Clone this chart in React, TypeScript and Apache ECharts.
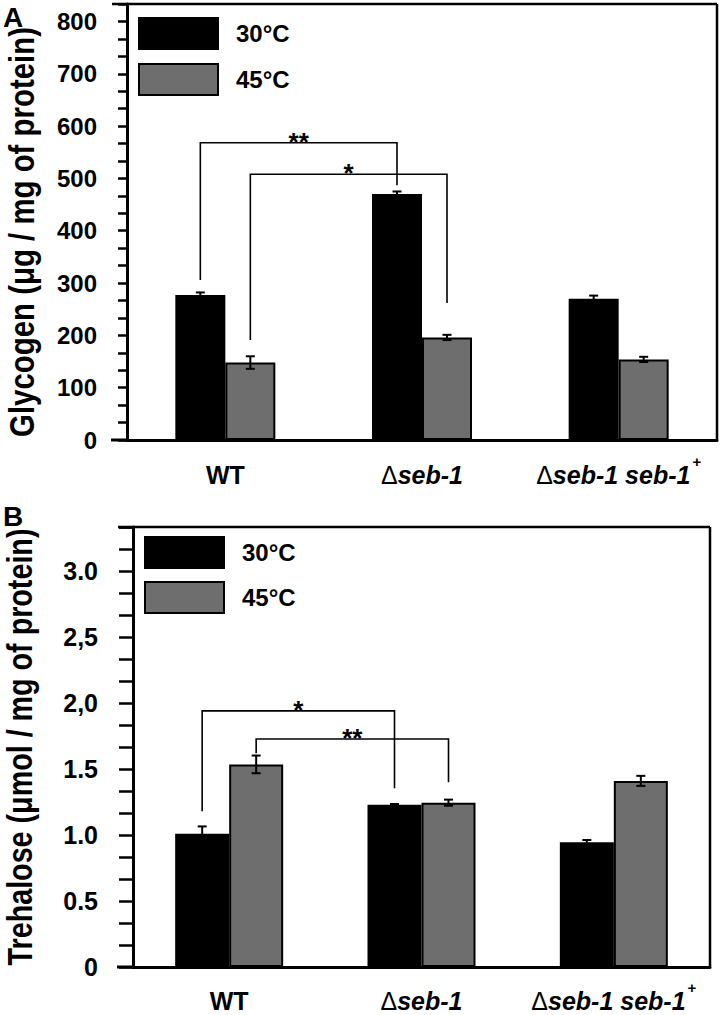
import React, { useEffect, useRef } from "react";
import * as echarts from "echarts";

// ---------- data ----------
const categories = ["WT", "Δseb-1", "Δseb-1 seb-1+"];
const seriesNames = ["30°C", "45°C"];

const glycogen30 = [277, 470, 270];
const glycogen30Err = [5, 5, 6];
const glycogen45 = [148, 196, 154];
const glycogen45Err = [12, 5, 5];

const trehalose30 = [1.01, 1.23, 0.945];
const trehalose30Err = [0.055, 0.005, 0.017];
const trehalose45 = [1.535, 1.245, 1.41];
const trehalose45Err = [0.067, 0.023, 0.038];

const glycogenTickLabels = ["0", "100", "200", "300", "400", "500", "600", "700", "800"];
const trehaloseTickLabels = ["0", "0.5", "1.0", "1.5", "2,0", "2,5", "3.0"];

// brackets: [fromCategory, fromBar, toCategory, toBar, barTop, leftLegEnd, rightLegEnd]
const glycogenBrackets = [
  [0, 0, 1, 0, 568, 306, 487],
  [0, 1, 1, 1, 508, 191, 262],
];
const glycogenBracketLabels = ["**", "*"];
const trehaloseBrackets = [
  [0, 0, 1, 0, 1.94, 1.18, 1.355],
  [0, 1, 1, 1, 1.727, 1.62, 1.4],
];
const trehaloseBracketLabels = ["*", "**"];

// ---------- styles ----------
const SANS = "'Liberation Sans', Arial, Helvetica, sans-serif";
const BLACK = "#000000";
const GRAY = "#6e6e6e";

function makeErrorRender(barW: number) {
  return (params: any, api: any) => {
    const cat = api.value(0);
    const side = api.value(1);
    const v = api.value(2);
    const e = api.value(3);
    const c = api.coord([cat, v]);
    const x = c[0] + (side === 0 ? -barW / 2 : barW / 2);
    const yt = api.coord([cat, v + e])[1];
    const yb = api.coord([cat, v - e])[1];
    const cap = 4.5;
    const st = { stroke: BLACK, lineWidth: 2 };
    return {
      type: "group",
      children: [
        { type: "line", shape: { x1: x, y1: yt, x2: x, y2: yb }, style: st },
        { type: "line", shape: { x1: x - cap, y1: yt, x2: x + cap, y2: yt }, style: st },
        { type: "line", shape: { x1: x - cap, y1: yb, x2: x + cap, y2: yb }, style: st },
      ],
    };
  };
}

function makeBracketRender(barW: number, labels: string[]) {
  return (params: any, api: any) => {
    const fc = api.value(0);
    const fs = api.value(1);
    const tc = api.value(2);
    const ts = api.value(3);
    const top = api.value(4);
    const le = api.value(5);
    const re = api.value(6);
    const xl = api.coord([fc, top])[0] + (fs === 0 ? -barW / 2 : barW / 2);
    const xr = api.coord([tc, top])[0] + (ts === 0 ? -barW / 2 : barW / 2);
    const yt = api.coord([fc, top])[1];
    const yl = api.coord([fc, le])[1];
    const yr = api.coord([tc, re])[1];
    return {
      type: "group",
      children: [
        {
          type: "polyline",
          shape: { points: [[xl, yl], [xl, yt], [xr, yt], [xr, yr]] },
          style: { stroke: BLACK, lineWidth: 1.6, fill: null },
        },
        {
          type: "text",
          x: (xl + xr) / 2,
          y: yt - 1,
          style: {
            text: labels[params.dataIndex],
            font: `bold 26px ${SANS}`,
            fill: BLACK,
            align: "center",
            verticalAlign: "middle",
          },
        },
      ],
    };
  };
}

function frameRender(params: any, api: any) {
  const cs = params.coordSys;
  const st = { stroke: BLACK, lineWidth: 2.5 };
  const l = cs.x;
  const r = cs.x + cs.width;
  const t = cs.y;
  const b = cs.y + cs.height;
  return {
    type: "group",
    children: [
      { type: "line", shape: { x1: l - 15, y1: t, x2: r, y2: t }, style: st },
      { type: "line", shape: { x1: r, y1: t, x2: r, y2: b }, style: st },
      { type: "line", shape: { x1: l - 16, y1: b, x2: l, y2: b }, style: { stroke: BLACK, lineWidth: 3 } },
    ],
  };
}

function catFormatter(v: string) {
  if (v.startsWith("Δ") && v.endsWith("+")) return `{d|Δ}{i|${v.slice(1, -1)}}{s|+}`;
  if (v.startsWith("Δ")) return `{d|Δ}{i|${v.slice(1)}}`;
  return `{n|${v}}`;
}

const catRich = {
  n: { fontFamily: SANS, fontWeight: "bold", fontSize: 25, color: BLACK, lineHeight: 42 },
  d: { fontFamily: SANS, fontWeight: "normal", fontSize: 25, color: BLACK, lineHeight: 42 },
  i: { fontFamily: SANS, fontWeight: "bold", fontStyle: "italic", fontSize: 25, color: BLACK, lineHeight: 42 },
  s: { fontFamily: SANS, fontWeight: "bold", fontSize: 15, color: BLACK, verticalAlign: "top", lineHeight: 15, padding: [0, 0, 0, 2] },
};

function glyFormatter(v: number) {
  const step = 100 / 3;
  const k = Math.round(v / step);
  if (Math.abs(v - k * step) > 1e-6 || k % 3 !== 0) return "";
  return glycogenTickLabels[k / 3] ?? "";
}
function treFormatter(v: number) {
  const step = 1 / 6;
  const k = Math.round(v / step);
  if (Math.abs(v - k * step) > 1e-9 || k % 3 !== 0) return "";
  return trehaloseTickLabels[k / 3] ?? "";
}

function legendCfg(left: number, top: number, gap: number) {
  return {
    data: seriesNames,
    orient: "vertical",
    left,
    top,
    padding: 0,
    itemWidth: 79,
    itemHeight: 31,
    itemGap: gap,
    icon: "rect",
    selectedMode: false,
    textStyle: {
      fontFamily: SANS,
      fontWeight: "bold",
      fontSize: 24,
      color: BLACK,
      padding: [0, 0, 0, 13],
    },
  };
}

function barSeries(name: string, color: string, data: number[], idx: number, barW: number) {
  return {
    name,
    type: "bar",
    xAxisIndex: idx,
    yAxisIndex: idx,
    data,
    barWidth: barW,
    barGap: "0%",
    itemStyle: { color, borderColor: BLACK, borderWidth: 2 },
  };
}

export default function App() {
  const ref = useRef<HTMLDivElement>(null);
  useEffect(() => {
    document.body.style.margin = "0";
    if (!ref.current) return;
    const chart = echarts.init(ref.current, null, { renderer: "svg" });
    const BW_A = 50;
    const BW_B = 54;
    const option: any = {
      animation: false,
      backgroundColor: "#ffffff",
      grid: [
        { left: 127, top: 4, width: 590, height: 436 },
        { left: 133, top: 527, width: 577, height: 440 },
      ],
      legend: [legendCfg(138, 17, 13), legendCfg(144, 536, 12)],
      xAxis: [0, 1].map((i) => ({
        type: "category",
        gridIndex: i,
        data: categories,
        axisLine: { lineStyle: { color: BLACK, width: 3 } },
        axisTick: { show: false },
        axisLabel: {
          margin: i === 0 ? 14 : 13,
          formatter: catFormatter,
          rich: catRich,
          interval: 0,
        },
      })),
      yAxis: [
        {
          type: "value",
          gridIndex: 0,
          min: 0,
          max: 2500 / 3,
          interval: 100 / 3,
          axisLine: { show: true, lineStyle: { color: BLACK, width: 3 } },
          axisTick: { show: true, length: 9, lineStyle: { color: BLACK, width: 2.5 } },
          splitLine: { show: false },
          axisLabel: {
            margin: 30,
            formatter: glyFormatter,
            fontFamily: SANS,
            fontWeight: "bold",
            fontSize: 24,
            color: BLACK,
          },
        },
        {
          type: "value",
          gridIndex: 1,
          min: 0,
          max: 10 / 3,
          interval: 1 / 6,
          axisLine: { show: true, lineStyle: { color: BLACK, width: 3 } },
          axisTick: { show: true, length: 14, lineStyle: { color: BLACK, width: 2.5 } },
          splitLine: { show: false },
          axisLabel: {
            margin: 35,
            formatter: treFormatter,
            fontFamily: SANS,
            fontWeight: "bold",
            fontSize: 25,
            color: BLACK,
          },
        },
      ],
      graphic: [
        {
          type: "text",
          x: 3,
          y: 3,
          style: { text: "A", font: `bold 28px ${SANS}`, fill: BLACK },
        },
        {
          type: "text",
          x: 3,
          y: 502,
          style: { text: "B", font: `bold 28px ${SANS}`, fill: BLACK },
        },
        {
          type: "text",
          x: 22,
          y: 232,
          rotation: Math.PI / 2,
          scaleX: 0.84,
          style: {
            text: "Glycogen (μg / mg of protein)",
            font: `bold 35px ${SANS}`,
            fill: BLACK,
            align: "center",
            verticalAlign: "middle",
          },
        },
        {
          type: "text",
          x: 20,
          y: 747,
          rotation: Math.PI / 2,
          scaleX: 0.82,
          style: {
            text: "Trehalose (μmol / mg of protein)",
            font: `bold 35px ${SANS}`,
            fill: BLACK,
            align: "center",
            verticalAlign: "middle",
          },
        },
      ],
      series: [
        barSeries(seriesNames[0], BLACK, glycogen30, 0, BW_A),
        barSeries(seriesNames[1], GRAY, glycogen45, 0, BW_A),
        barSeries(seriesNames[0], BLACK, trehalose30, 1, BW_B),
        barSeries(seriesNames[1], GRAY, trehalose45, 1, BW_B),
        {
          type: "custom",
          xAxisIndex: 0,
          yAxisIndex: 0,
          renderItem: makeErrorRender(BW_A),
          encode: { x: 0, y: 2 },
          data: [
            ...glycogen30.map((v, i) => [i, 0, v, glycogen30Err[i]]),
            ...glycogen45.map((v, i) => [i, 1, v, glycogen45Err[i]]),
          ],
          z: 5,
        },
        {
          type: "custom",
          xAxisIndex: 1,
          yAxisIndex: 1,
          renderItem: makeErrorRender(BW_B),
          encode: { x: 0, y: 2 },
          data: [
            ...trehalose30.map((v, i) => [i, 0, v, trehalose30Err[i]]),
            ...trehalose45.map((v, i) => [i, 1, v, trehalose45Err[i]]),
          ],
          z: 5,
        },
        {
          type: "custom",
          xAxisIndex: 0,
          yAxisIndex: 0,
          renderItem: makeBracketRender(BW_A, glycogenBracketLabels),
          encode: { x: 0, y: 4 },
          data: glycogenBrackets,
          z: 5,
        },
        {
          type: "custom",
          xAxisIndex: 1,
          yAxisIndex: 1,
          renderItem: makeBracketRender(BW_B, trehaloseBracketLabels),
          encode: { x: 0, y: 4 },
          data: trehaloseBrackets,
          z: 5,
        },
        {
          type: "custom",
          xAxisIndex: 0,
          yAxisIndex: 0,
          renderItem: frameRender,
          encode: { x: 0, y: 1 },
          data: [[0, 0]],
          z: 6,
        },
        {
          type: "custom",
          xAxisIndex: 1,
          yAxisIndex: 1,
          renderItem: frameRender,
          encode: { x: 0, y: 1 },
          data: [[0, 0]],
          z: 6,
        },
      ],
    };
    chart.setOption(option);
    return () => chart.dispose();
  }, []);
  return <div ref={ref} style={{ width: 721, height: 1015 }} />;
}
